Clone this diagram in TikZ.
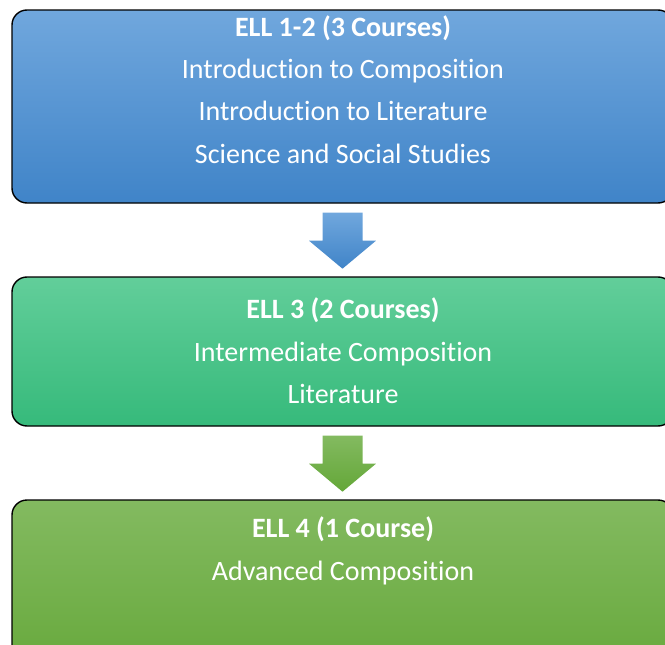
\documentclass[tikz,border=0pt]{standalone}
\usepackage{fontspec}
\setmainfont[RawFeature={-liga;-clig;-calt;-dlig}]{Carlito}
\usetikzlibrary{calc}
\definecolor{blueT}{RGB}{112,167,221}
\definecolor{blueB}{RGB}{64,132,200}
\definecolor{tealT}{RGB}{98,206,154}
\definecolor{tealB}{RGB}{54,186,123}
\definecolor{grnT}{RGB}{131,186,96}
\definecolor{grnB}{RGB}{100,167,56}
\tikzset{
  box/.style={rectangle, draw=black, line width=1.4pt, rounded corners=15pt,
    minimum width=661pt, inner sep=0pt},
  line/.style={text=white, font=\fontsize{28}{32}\selectfont, anchor=base, inner sep=0pt},
  head/.style={line, font=\fontsize{28}{32}\selectfont\bfseries},
  blockarrow/.style={draw=none}
}
\begin{document}
\begin{tikzpicture}[x=1pt,y=-1pt]
\useasboundingbox (0,0) rectangle (665,645);
\clip (0,0) rectangle (665,645);
\node[box, minimum height=193pt, top color=blueT, bottom color=blueB] (b1) at (342.5,106.5) {};
\node[box, minimum height=149pt, top color=tealT, bottom color=tealB] (b2) at (342.5,351.5) {};
\node[box, minimum height=190pt, top color=grnT, bottom color=grnB] (b3) at (342.5,595) {};
% texts box 1
\node[head] (t11) at (343,36) {ELL 1-2 (3 Courses)};
\node[line] (t12) at (343,78) {Introduction to Composition};
\node[line] (t13) at (343,120.5) {Introduction to Literature};
\node[line] (t14) at (343,163) {Science and Social Studies};
% texts box 2
\node[head] (t21) at (343,318.5) {ELL 3 (2 Courses)};
\node[line] (t22) at (343,361) {Intermediate Composition};
\node[line] (t23) at (343,403.5) {Literature};
% texts box 3
\node[head] (t31) at (343,537) {ELL 4 (1 Course)};
\node[line] (t32) at (343,580) {Advanced Composition};
% block arrows
\shade[blockarrow, top color=blueT, bottom color=blueB]
  ($(b1.south)+(-20,9)$) -- ($(b1.south)+(20,9)$) -- ($(b1.south)+(20,37)$)
  -- ($(b1.south)+(33.5,37)$) -- ($(b1.south)+(0,65)$) -- ($(b1.south)+(-33.5,37)$)
  -- ($(b1.south)+(-20,37)$) -- cycle;
\shade[blockarrow, top color=grnT, bottom color=grnB]
  ($(b2.south)+(-20,9)$) -- ($(b2.south)+(20,9)$) -- ($(b2.south)+(20,37)$)
  -- ($(b2.south)+(33.5,37)$) -- ($(b2.south)+(0,65)$) -- ($(b2.south)+(-33.5,37)$)
  -- ($(b2.south)+(-20,37)$) -- cycle;
\end{tikzpicture}
\end{document}
